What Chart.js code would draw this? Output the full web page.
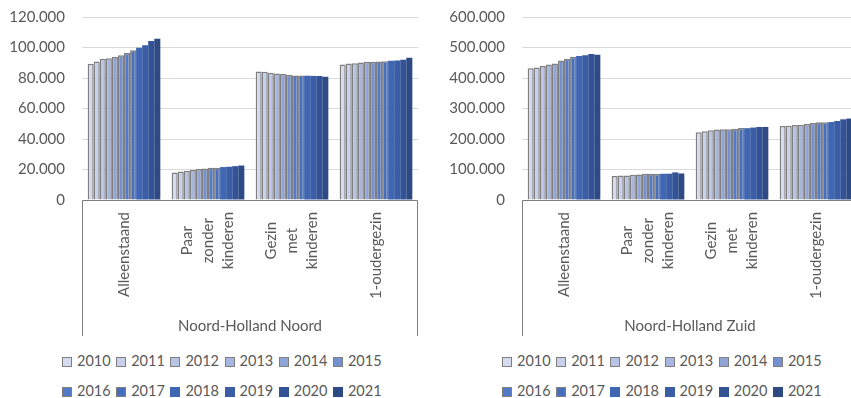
<!DOCTYPE html>
<html>
<head>
<meta charset="utf-8">
<title>Huishoudens Noord-Holland</title>
<script src="https://cdn.jsdelivr.net/npm/chart.js@4"></script>
<style>
  html, body { margin: 0; padding: 0; background: #ffffff; }
  body { width: 851px; height: 398px; overflow: hidden; position: relative; font-family: Lato, "DejaVu Sans", sans-serif; }
  .panel { position: absolute; top: 0; width: 430px; height: 340px; }
  .legend { position: absolute; color: #595959; font: 14.5px Lato, sans-serif; }
  .legend .row { position: absolute; left: 0; white-space: nowrap; height: 16px; line-height: 16px; }
  .legend .item { display: inline-block; width: 54.2px; }
  .legend .sw { display: inline-block; width: 10px; height: 10px; box-sizing: border-box; vertical-align: -1px; margin-right: 5px; }
</style>
</head>
<body>
<div class="panel" style="left:0px"><canvas id="noord" width="430" height="340"></canvas></div>
<div class="panel" style="left:440px"><canvas id="zuid" width="430" height="340"></canvas></div>
<div class="legend" id="legendNoord" style="left:62px; top:0px"></div>
<div class="legend" id="legendZuid" style="left:502px; top:0px"></div>
<script>
// Household types (category axis, wrapped over several lines)
const categories = [["Alleenstaand"], ["Paar", "zonder", "kinderen"], ["Gezin", "met", "kinderen"], ["1-oudergezin"]];
const years = ["2010", "2011", "2012", "2013", "2014", "2015", "2016", "2017", "2018", "2019", "2020", "2021"];

// Noord-Holland Noord, households per type, 2010..2021
const noordAlleenstaand = [89300, 90800, 92600, 93000, 93700, 94900, 96400, 98200, 99800, 101500, 104300, 105700];
const noordPaarZonder   = [18100, 18700, 19200, 19600, 20300, 20700, 21100, 21200, 21600, 21800, 22200, 22600];
const noordGezinMet     = [84300, 84100, 83500, 83000, 82600, 82100, 81700, 81600, 81500, 81400, 81300, 80800];
const noordEenOuder     = [88900, 89500, 89700, 90200, 90600, 90700, 90800, 91000, 91300, 91500, 92000, 93300];

// Noord-Holland Zuid, households per type, 2010..2021
const zuidAlleenstaand = [432000, 434500, 439000, 444000, 447500, 457500, 463000, 469500, 472500, 475000, 478500, 476500];
const zuidPaarZonder   = [78400, 80000, 80200, 83000, 83300, 86000, 86000, 85600, 86000, 86200, 90500, 87000];
const zuidGezinMet     = [222000, 225500, 228500, 231500, 232000, 232000, 234000, 236000, 235500, 237500, 239500, 239500];
const zuidEenOuder     = [243000, 243500, 246000, 246500, 249000, 252500, 255000, 255000, 255500, 259000, 264500, 267000];

// Value axis ticks
const noordTicks = [0, 20000, 40000, 60000, 80000, 100000, 120000];
const zuidTicks  = [0, 100000, 200000, 300000, 400000, 500000, 600000];

// Monochrome blue palette, light to dark
const yearColors = ["#D5DBEF", "#C8D0EB", "#B8C3E5", "#A7B6DF", "#91A4D7", "#7490CE", "#5479C6", "#466FBE", "#3F66B2", "#3A5DA5", "#335396", "#2D4A85"];
const outlinedYears = 8; // first eight series carry a grey outline

const textGrey = "#595959";
const axisGrey = "#808080";

function formatThousands(v) {
  return String(v).replace(/\B(?=(\d{3})+(?!\d))/g, ".");
}

// Draws the boxed, multi-level category axis: axis line, side rules and centred rotated labels
const categoryBoxPlugin = {
  id: "categoryBox",
  afterDraw(chart) {
    const { ctx, chartArea, scales } = chart;
    const x = scales.x;
    ctx.save();
    ctx.strokeStyle = axisGrey;
    ctx.lineWidth = 1;
    const l = Math.round(chartArea.left) + 0.5;
    const r = Math.round(chartArea.right) - 0.5;
    const b = Math.round(chartArea.bottom) + 0.5;
    ctx.beginPath();
    ctx.moveTo(l, b); ctx.lineTo(r, b);
    ctx.moveTo(l, b); ctx.lineTo(l, x.bottom);
    ctx.moveTo(r, b); ctx.lineTo(r, x.bottom);
    ctx.stroke();

    ctx.fillStyle = textGrey;
    ctx.font = "15px Lato";
    ctx.textAlign = "center";
    ctx.textBaseline = "middle";
    categories.forEach((lines, i) => {
      const px = x.getPixelForValue(i);
      const w = Math.max(...lines.map(s => ctx.measureText(s).width));
      ctx.save();
      ctx.translate(px, chartArea.bottom + 12 + w / 2);
      ctx.rotate(-Math.PI / 2);
      lines.forEach((s, j) => ctx.fillText(s, 0, (j - (lines.length - 1) / 2) * 20.5));
      ctx.restore();
    });
    ctx.restore();
  }
};

function makePanel(canvasId, seriesByCategory, ticks, groupTitle) {
  const datasets = years.map((yr, s) => ({
    label: yr,
    data: seriesByCategory.map(arr => arr[s]),
    backgroundColor: yearColors[s],
    borderColor: "#7F7F7F",
    borderWidth: s < outlinedYears ? 1.5 : 0,
    borderSkipped: "bottom",
    categoryPercentage: 0.865,
    barPercentage: 1.0
  }));

  return new Chart(document.getElementById(canvasId), {
    type: "bar",
    data: { labels: categories.map(c => c.join(" ")), datasets },
    options: {
      responsive: false,
      animation: false,
      devicePixelRatio: 1,
      layout: { padding: { left: 0, right: 12, top: 17, bottom: 4 } },
      plugins: { legend: { display: false }, tooltip: { enabled: false } },
      scales: {
        x: {
          grid: { display: false },
          border: { display: false },
          ticks: { display: false },
          title: {
            display: true,
            text: groupTitle,
            color: textGrey,
            font: { family: "Lato", size: 15 },
            padding: { top: 0, bottom: 1 }
          },
          afterFit(scale) { scale.height = 136; }
        },
        y: {
          min: ticks[0],
          max: ticks[ticks.length - 1],
          grid: { color: "#D9D9D9", lineWidth: 1, drawTicks: false },
          border: { display: false },
          ticks: {
            stepSize: ticks[1] - ticks[0],
            padding: 17,
            color: textGrey,
            font: { family: "Lato", size: 15 },
            callback: v => formatThousands(v)
          },
          afterFit(scale) {
            scale.width = 82;
            scale.paddingTop = 0;
            scale.paddingBottom = 0;
          }
        }
      }
    },
    plugins: [categoryBoxPlugin]
  });
}

function makeLegend(elId) {
  const el = document.getElementById(elId);
  const perRow = 6;
  for (let r = 0; r < 2; r++) {
    const row = document.createElement("div");
    row.className = "row";
    row.style.top = (353 + r * 30) + "px";
    years.slice(r * perRow, (r + 1) * perRow).forEach((yr, k) => {
      const s = r * perRow + k;
      const item = document.createElement("span");
      item.className = "item";
      const sw = document.createElement("span");
      sw.className = "sw";
      sw.style.background = yearColors[s];
      if (s < outlinedYears) sw.style.border = "1px solid #7F7F7F";
      item.appendChild(sw);
      item.appendChild(document.createTextNode(yr));
      row.appendChild(item);
    });
    el.appendChild(row);
  }
}

makePanel("noord", [noordAlleenstaand, noordPaarZonder, noordGezinMet, noordEenOuder], noordTicks, "Noord-Holland Noord");
makePanel("zuid", [zuidAlleenstaand, zuidPaarZonder, zuidGezinMet, zuidEenOuder], zuidTicks, "Noord-Holland Zuid");
makeLegend("legendNoord");
makeLegend("legendZuid");
</script>
</body>
</html>
